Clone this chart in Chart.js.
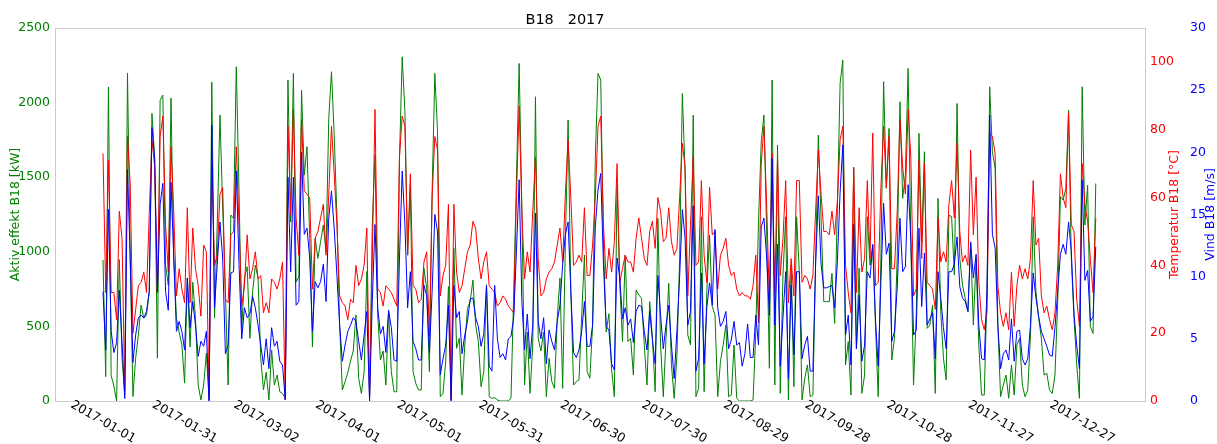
<!DOCTYPE html>
<html>
<head>
<meta charset="utf-8">
<script src="https://cdn.jsdelivr.net/npm/chart.js@4.4.1/dist/chart.umd.min.js"></script>
<style>
  html, body { margin: 0; padding: 0; background: #fff; }
  #wrap { width: 1217px; height: 444px; }
</style>
</head>
<body>
<div id="wrap"><canvas id="myChart"></canvas></div>
<script>
// dagverdier fra 2017-01-01 (indeks = dag nr.)
var effekt = [
    945,163,2105,170,100,0,948,287,40,2196,952,30,287,442,643,555,577,730,1928,1626,287,2015,2050,911,777,2030,952,555,462,
    375,120,824,362,797,555,107,7,107,322,7,2137,555,1179,1916,1300,733,107,1246,1224,2240,1403,487,824,900,420,733,911,824,286,
    74,194,7,342,107,174,62,51,18,2151,1200,2196,797,831,2083,1514,1704,1090,362,1090,956,1068,1179,1000,1894,2207,1782,1246,509,74,130,
    190,268,335,577,152,51,197,868,18,1179,1648,577,275,335,107,600,197,62,62,1626,2307,1939,978,1447,197,118,74,74,890,756,
    197,1403,2196,1805,29,51,268,767,18,1023,353,420,40,375,621,666,811,509,398,96,197,779,29,18,22,7,0,0,0,0,20,
    720,1480,2262,1291,107,462,51,375,2039,420,335,462,29,286,130,85,555,824,85,1068,1883,733,107,130,141,577,978,197,152,509,
    1626,2196,2151,1045,462,585,210,29,1447,779,398,978,398,420,174,744,711,688,375,107,666,420,62,1224,375,29,420,790,242,18,300,
    956,2061,1537,442,375,1916,29,85,1235,62,733,1113,633,577,29,264,375,509,29,40,375,18,0,0,0,0,0,7,462,1200,
    1738,1916,1135,219,2151,107,1716,51,845,1235,7,911,96,1235,868,7,152,242,29,40,933,1782,1224,666,666,666,856,520,1291,2128,2285,
    242,398,40,1559,353,890,51,174,1235,911,1045,509,29,956,2140,1425,1827,275,420,956,2005,1358,1514,2229,1068,107,577,1794,1068,1671,
    487,509,643,51,1358,600,286,141,1246,1235,845,1994,956,777,688,600,1057,509,956,375,40,40,733,2106,1671,1559,509,29,107,174,18,
    242,40,375,420,107,29,74,442,1235,733,555,420,174,186,74,51,174,666,1369,1347,1425,1950,956,555,242,18,2106,1179,1447,498,453,1458
];
var temperatur = [
    73,32,71,32,32,24,56,48,3,78,64,20,27,34,35,38,32,55,77,69,32,78,84,52,38,75,56,31,39,
    33,29,57,29,51,39,34,25,46,44,2,70,40,43,61,63,30,29,49,50,75,52,28,34,49,36,39,44,36,37,
    26,29,26,36,35,33,36,41,0.4,81,55,86,54,43,83,62,61,60,33,48,50,54,58,43,61,81,67,52,31,29,28,
    24,30,29,40,34,36,40,51,1,42,86,33,32,28,34,33,32,30,28,72,84,81,43,67,34,33,29,30,41,44,
    19,60,78,74,31,37,40,58,0.3,58,38,32,34,39,44,46,53,51,42,36,41,44,34,33,32,28,29,31,30,28,27,
    26,60,87,56,36,44,38,56,72,42,31,32,36,38,39,41,46,51,41,61,77,60,40,41,43,41,57,37,37,46,
    60,81,84,52,36,45,38,47,70,35,39,43,41,41,38,48,54,48,42,40,50,53,45,60,56,47,48,57,47,43,45,
    60,76,69,31,52,72,40,41,65,43,35,63,49,50,33,43,45,48,40,37,38,33,31,32,31,31,30,34,43,23,
    70,81,58,29,73,32,72,37,48,65,29,42,31,65,65,35,37,36,33,37,56,74,61,50,50,49,56,49,59,77,81,
    40,32,26,69,32,57,38,42,65,42,79,34,35,63,81,63,78,39,39,56,83,69,61,86,72,31,33,71,42,70,
    35,34,33,27,54,41,44,41,58,65,54,76,50,41,43,40,74,49,66,35,24,21,26,79,78,73,34,26,22,26,21,
    38,22,34,40,36,39,36,42,65,46,48,31,26,28,24,21,26,40,67,60,57,85,52,50,30,22,70,58,53,42,32,54
];
var vind = [
    8.8,4.1,15.4,5.6,3.9,4.7,8.9,4.7,0.2,18.6,11.5,3.1,5.3,6.7,6.9,6.7,7.2,8.8,22,19.5,8.8,15.8,17.5,8.8,7.3,17.6,11.6,5.6,6.4,
    5.6,4.1,9.9,5.9,8.0,6.1,3.6,4.8,4.4,5.6,0,22.2,7.5,11,14.4,11.5,3.8,4.5,10.3,10.4,18.5,11,5,7.5,6.7,7,8.4,7.5,6.1,4.5,
    2.9,5,2.6,5.9,4.4,4.8,3.2,2.9,0.1,18,10.4,18,7.7,8,20,13.4,13.9,11.5,5.6,9.6,9.1,9.6,11,8,14.7,16.9,13.9,10.1,6.1,3.2,4.5,
    5.6,6.1,6.7,6.4,4.8,3.3,5.3,7.2,0,8,14.2,7.5,5.4,6,3.9,7.3,5.9,3.3,3.2,11.5,18.5,14.2,7.5,10.4,4.8,4.2,3.3,3.3,9.3,8.5,
    3.9,8.8,15,13.6,2.1,3.4,4.5,7.7,0,9.3,6.7,7.2,3.8,5.3,6.4,8.2,8.3,6.7,6,4.4,5.4,9.3,2.8,2.4,9.3,5,3.5,3.8,3.3,5,5.2,
    6.7,12,17.8,8,4.1,7,3.4,6.1,15.1,6.4,5,6.7,3,5.7,4.8,4.1,6.4,7.7,11,13.4,14.4,8.8,3.9,3.5,4.1,5.6,8,4.4,4.4,6.1,
    14,17,18.3,11,6,5.7,3,2.5,11.5,9.9,6.6,7.5,6.1,6.6,4.7,7.2,7.7,7.6,5.6,4.1,7.2,4.9,3,10.1,6.9,4.2,6.1,7.7,4.5,1.8,5.6,
    10,15.4,13.1,6.1,7.2,15.7,2.4,3.4,10.3,3,7.5,9.5,7.7,13.8,7.5,6,6.4,7.2,4.2,4.9,6.4,4.5,4.7,2.8,3.8,6.2,3.5,3.5,6.9,4.5,
    14,14.7,11.5,6.9,19.5,6.1,12.6,2.8,6.7,10.4,1.8,9.3,3.7,10.4,10.4,3.4,4.5,5.2,2.4,2.4,11,16.5,11,9.1,9.1,9.2,9.3,7.5,11.2,16.8,20.6,
    5.3,6.9,2.9,14.2,4.2,8.5,3.2,4.5,10.4,9.9,12.6,6.6,2.8,9.6,15.9,11.8,12.7,4.8,5.6,9.1,14.7,10.4,10.8,17.4,13.1,5.3,5.7,13.9,7.6,11.9,
    6.1,6.6,7.1,3.4,10.4,8.3,5.9,4.2,10.4,10.4,11,13.2,9.2,8.3,8,7.2,12.8,9.9,11.8,6.1,3.4,3.3,8.8,23,13.4,12.3,6.1,2.6,3.8,4.1,3.3,
    6.6,3.2,5.6,5.7,3.4,2.9,3.4,6.1,10.3,8.3,6.8,5.6,5,4.4,3.7,3.6,5.9,8.8,11.8,12.6,11.8,14.4,12.1,7,4.5,2.6,17.8,9.7,10.5,6.4,6.8,12.4
];

var tickDays = [0, 30, 60, 90, 120, 150, 180, 210, 240, 270, 300, 330, 360];
var tickLabels = ['2017-01-01', '2017-01-31', '2017-03-02', '2017-04-01', '2017-05-01', '2017-05-31',
    '2017-06-30', '2017-07-30', '2017-08-29', '2017-09-28', '2017-10-28', '2017-11-27', '2017-12-27'];

var fontName = "'DejaVu Sans', sans-serif";

function toPoints(arr) {
    return arr.map(function (v, i) { return { x: i, y: v }; });
}

function plainTick(v) { return String(v); }

// egen tegning: tittel, ramme, aksetitler til høyre og skrå datoetiketter
var extras = {
    id: 'extras',
    afterDraw: function (chart) {
        var ctx = chart.ctx;
        var a = chart.chartArea;
        var midY = (a.top + a.bottom) / 2;
        ctx.save();
        ctx.strokeStyle = '#cccccc';
        ctx.lineWidth = 1;
        ctx.strokeRect(a.left + 0.5, a.top + 0.5, a.right - a.left, a.bottom - a.top);

        ctx.fillStyle = '#000';
        ctx.font = '14.5px ' + fontName;
        ctx.textAlign = 'center';
        ctx.textBaseline = 'middle';
        ctx.fillText('B18   2017', 565, 20);

        ctx.font = '12.5px ' + fontName;
        var rightTitles = [
            ['Temperatur B18 [°C]', '#ff0000', chart.scales.y1.right - 10],
            ['Vind B18 [m/s]', '#0000ff', chart.scales.y2.right - 6]
        ];
        rightTitles.forEach(function (t) {
            ctx.save();
            ctx.fillStyle = t[1];
            ctx.translate(t[2], midY);
            ctx.rotate(-Math.PI / 2);
            ctx.fillText(t[0], 0, 0);
            ctx.restore();
        });

        var xs = chart.scales.x;
        ctx.fillStyle = '#000';
        for (var i = 0; i < tickDays.length; i++) {
            var px = xs.getPixelForValue(tickDays[i]);
            ctx.save();
            ctx.translate(px, a.bottom + 21);
            ctx.rotate(30 * Math.PI / 180);
            ctx.fillText(tickLabels[i], 0, 0);
            ctx.restore();
        }
        ctx.restore();
    }
};

const ctx1 = document.getElementById('myChart');

new Chart(ctx1, {
    type: 'line',
    data: {
        datasets: [{
            label: 'Aktiv effekt B18 [kW]',
            data: toPoints(effekt),
            borderColor: '#008000',
            yAxisID: 'y',
            order: 3
        }, {
            label: 'Temperatur B18 [°C]',
            data: toPoints(temperatur),
            borderColor: '#ff0000',
            yAxisID: 'y1',
            order: 2
        }, {
            label: 'Vind B18 [m/s]',
            data: toPoints(vind),
            borderColor: '#0000ff',
            yAxisID: 'y2',
            order: 1
        }]
    },
    options: {
        responsive: true,
        maintainAspectRatio: false,
        animation: false,
        layout: { padding: { top: 28, left: 0, right: 0, bottom: 0 } },
        elements: {
            point: { radius: 0 },
            line: { borderWidth: 1, tension: 0 }
        },
        plugins: {
            legend: { display: false },
            tooltip: { enabled: false }
        },
        scales: {
            x: {
                type: 'linear',
                min: -17.65,
                max: 383.1,
                grid: { display: false, drawTicks: false },
                border: { display: false },
                ticks: { display: false },
                afterBuildTicks: function (s) { s.ticks = tickDays.map(function (d) { return { value: d }; }); },
                afterFit: function (s) { s.height = 43; }
            },
            y: {
                position: 'left',
                min: 0,
                max: 2500,
                grid: { display: false, drawTicks: true, tickLength: 3, tickColor: '#000' },
                border: { display: true, color: '#cccccc' },
                ticks: { stepSize: 500, color: '#008000', font: { family: fontName, size: 12.5 }, padding: 2, callback: plainTick },
                title: { display: true, text: 'Aktiv effekt B18 [kW]', color: '#008000', font: { family: fontName, size: 12.5 }, padding: { top: 8 } },
                afterFit: function (s) { s.width = 55; }
            },
            y1: {
                position: 'right',
                min: 0,
                max: 110,
                grid: { display: false, drawTicks: true, tickLength: 3, tickColor: '#000' },
                border: { display: true, color: '#cccccc' },
                ticks: { stepSize: 20, includeBounds: false, color: '#ff0000', font: { family: fontName, size: 12.5 }, padding: 2, callback: plainTick },
                afterFit: function (s) { s.width = 40; }
            },
            y2: {
                position: 'right',
                min: 0,
                max: 30,
                grid: { display: false, drawTicks: true, tickLength: 3, tickColor: '#000' },
                border: { display: false },
                ticks: { stepSize: 5, color: '#0000ff', font: { family: fontName, size: 12.5 }, padding: 2, callback: plainTick },
                afterFit: function (s) { s.width = 32; }
            }
        }
    },
    plugins: [extras]
});
</script>
</body>
</html>
